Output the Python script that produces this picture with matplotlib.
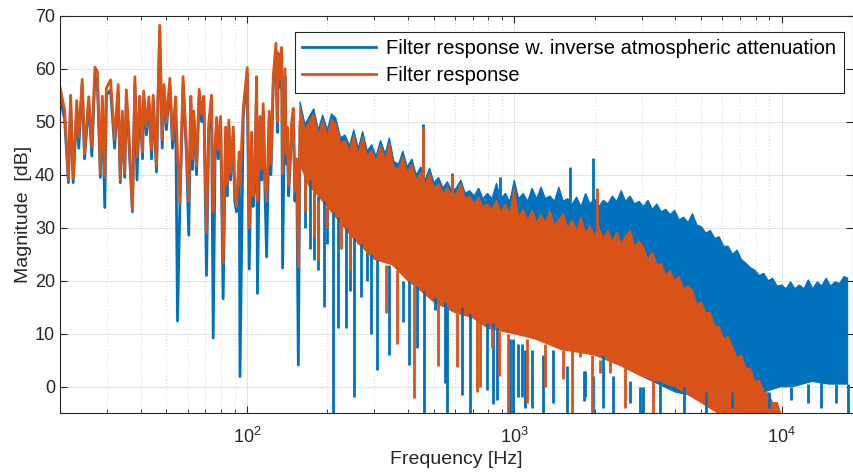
import numpy as np
import matplotlib.pyplot as plt
from matplotlib.ticker import LogLocator, NullFormatter

plt.rcParams['font.family'] = ['Liberation Sans', 'DejaVu Sans']

BLUE = '#0072BD'
ORANGE = '#D95319'

# low frequency part, single peaks readable (Hz, dB)
f_low = [20.0, 20.8, 21.5, 21.9, 22.4, 23.1, 23.5, 24.2, 24.7, 25.6, 26.3, 27.0, 27.6, 28.3,
         28.8, 29.4, 29.8, 30.9, 32.0, 33.0, 33.6, 34.2, 34.9, 35.4, 36.2, 37.3, 38.1, 38.8,
         39.7, 40.7, 41.1, 42.1, 43.0, 44.0, 44.6, 45.9, 46.5, 47.2, 48.2, 49.0, 50.0, 51.5,
         52.7, 54.1, 55.0, 56.1, 57.7, 59.5, 60.6, 61.7, 62.5, 63.3, 64.8, 66.3, 67.7, 69.0,
         70.6, 72.0, 73.7, 74.8, 76.0, 77.0, 78.1, 79.7, 81.5, 83.2, 84.5, 85.6, 86.9, 88.9,
         90.0, 91.5, 93.6, 94.2, 96.9, 100.3, 102.0, 104.1, 105.5, 107.1, 108.7, 109.5, 111.9,
         113.5, 115.1, 116.8, 118.5, 121.2, 123.0, 125.5, 128.4, 130.0, 131.0, 132.9, 134.9,
         136.0, 138.8, 140.2, 141.6, 143.2, 144.9, 147.0, 149.1, 151.2, 153.5, 155.7, 158.0]
m_low_or = [56.5, 52.2, 39.0, 55.0, 39.3, 54.0, 47.0, 58.0, 44.0, 54.7, 45.3, 60.3, 59.4, 40.3,
            54.8, 39.6, 56.3, 57.9, 46.6, 57.0, 39.0, 52.0, 40.3, 56.0, 47.8, 33.3, 58.5, 43.4,
            54.8, 44.3, 55.8, 49.0, 54.7, 44.7, 55.0, 41.6, 54.7, 68.2, 46.6, 57.0, 49.8, 58.2,
            46.6, 54.7, 44.0, 34.6, 58.5, 44.7, 35.0, 54.8, 43.0, 52.0, 41.6, 56.1, 51.5, 54.8,
            29.0, 49.8, 55.0, 33.0, 45.0, 50.8, 44.7, 51.0, 23.3, 49.0, 38.0, 50.3, 40.3, 49.0,
            37.0, 34.0, 44.3, 38.0, 52.5, 60.2, 30.0, 48.0, 36.0, 40.0, 58.5, 35.0, 51.0,
            41.0, 53.4, 39.0, 35.0, 52.0, 42.0, 58.5, 64.8, 50.0, 63.0, 58.0, 64.0,
            40.2, 60.0, 44.0, 49.0, 38.0, 42.6, 50.0, 52.5, 37.0, 43.0, 22.5, 50.0]
m_low_bl = [54.5, 50.5, 38.5, 53.5, 38.5, 52.5, 45.0, 57.0, 43.0, 53.5, 43.5, 58.5, 57.0, 39.5,
            53.5, 33.8, 55.0, 56.0, 45.0, 55.5, 38.5, 50.5, 39.5, 54.5, 46.0, 33.0, 57.0, 39.0,
            53.5, 43.0, 54.5, 47.5, 53.5, 43.0, 54.0, 40.5, 53.5, 67.0, 45.0, 55.5, 48.5, 57.0,
            45.0, 53.5, 12.4, 33.5, 57.0, 43.0, 28.6, 53.5, 41.0, 50.5, 40.0, 55.0, 50.0, 53.5,
            21.0, 48.5, 53.5, 9.2, 43.0, 49.5, 43.0, 50.0, 16.6, 47.5, 36.0, 49.0, 39.0, 47.5,
            35.0, 33.0, 43.0, 1.9, 51.0, 59.0, 22.2, 46.5, 34.0, 39.0, 57.0, 17.6, 49.5,
            39.0, 52.0, 37.0, 24.5, 50.5, 40.0, 57.0, 63.5, 48.0, 61.5, 56.5, 62.5,
            22.4, 58.5, 42.0, 47.5, 36.0, 41.5, 48.0, 51.0, 35.0, 42.0, 4.1, 49.0]

# dense part above ~160 Hz: frequencies where the top edge was read
f_hf = [158, 165, 171, 178, 185, 192, 200, 207, 215, 224, 233, 242, 251, 261, 271, 282, 293,
        304, 316, 329, 341, 355, 369, 383, 398, 414, 430, 447, 464, 482, 501, 521, 541, 562,
        584, 607, 631, 656, 681, 708, 736, 764, 794, 825, 858, 891, 926, 962, 1000, 1039,
        1080, 1122, 1166, 1212, 1259, 1308, 1359, 1413, 1468, 1525, 1585, 1647, 1711, 1778,
        1848, 1920, 1995, 2073, 2154, 2239, 2326, 2417, 2512, 2610, 2712, 2818, 2929, 3043,
        3162, 3286, 3415, 3548, 3687, 3831, 3981, 4137, 4299, 4467, 4642, 4823, 5012, 5208,
        5412, 5623, 5843, 6072, 6310, 6556, 6813, 7079, 7356, 7643, 7943, 8254, 8577, 8913,
        9261, 9624, 10000, 10391, 10798, 11220, 11659, 12115, 12589, 13082, 13594, 14125,
        14678, 15252, 15849, 16469, 17113, 17660]
top_or = [52.8, 48.5, 50.0, 51.5, 47.5, 50.3, 47.5, 50.5, 49.7, 46.0, 46.5, 44.5, 47.5, 44.0,
          47.2, 43.5, 44.7, 42.5, 45.5, 43.0, 46.0, 41.5, 41.0, 43.5, 40.5, 42.0, 39.0, 40.5,
          38.0, 40.3, 37.5, 38.4, 36.5, 37.7, 36.0, 36.5, 38.4, 35.5, 36.0, 34.5, 35.8, 34.0,
          34.5, 33.5, 35.2, 33.0, 34.5, 32.5, 37.5, 32.0, 33.5, 31.5, 33.3, 31.0, 32.5, 31.0,
          33.3, 30.5, 31.5, 32.7, 30.0, 31.5, 29.5, 32.0, 29.0, 30.5, 28.5, 30.2, 28.0, 29.5,
          27.5, 29.2, 27.0, 28.5, 29.6, 26.5, 27.5, 26.4, 24.0, 25.5, 23.0, 23.3, 21.0, 22.0,
          20.0, 20.8, 18.5, 19.0, 18.2, 15.5, 16.0, 14.0, 14.0, 11.5, 11.3, 9.0, 9.5, 7.5,
          5.5, 6.0, 3.5, 3.5, 1.0, 1.3, -1.0, -1.2, -3.0, -3.0, -5.5]
top_bl = [53.8, 49.5, 51.0, 52.5, 48.5, 51.3, 48.5, 51.5, 50.7, 47.0, 47.5, 45.5, 48.5, 45.0,
          48.2, 44.5, 45.7, 43.5, 46.5, 44.0, 47.0, 42.5, 42.0, 44.5, 41.5, 43.0, 40.0, 41.5,
          39.0, 41.3, 38.5, 39.5, 37.5, 38.7, 37.0, 37.5, 39.0, 36.5, 37.0, 36.0, 37.5, 35.5,
          36.5, 35.5, 38.4, 35.5, 36.5, 35.0, 39.0, 35.5, 36.5, 35.0, 37.5, 35.5, 37.7, 35.5,
          36.0, 35.0, 37.7, 35.0, 35.5, 34.5, 35.8, 34.0, 36.5, 34.5, 35.5, 34.0, 35.2, 34.5,
          36.0, 35.0, 37.0, 35.0, 36.0, 34.5, 35.0, 34.0, 35.2, 33.5, 34.5, 33.0, 33.5, 32.5,
          33.3, 31.5, 32.0, 31.0, 32.7, 30.5, 30.2, 29.0, 29.5, 28.0, 28.3, 26.5, 26.5, 25.0,
          25.8, 24.0, 23.3, 22.5, 22.0, 21.0, 21.4, 20.0, 20.5, 19.0, 19.2, 18.5, 19.8, 18.5,
          19.2, 18.5, 20.2, 18.5, 19.8, 19.0, 20.5, 19.0, 19.8, 19.5, 20.8, 20.5]

# bottom of the solid part of each band
f_lo_or = [158, 170, 185, 215, 250, 300, 350, 400, 450, 500, 600, 700, 800, 1000, 1200, 1500,
           2000, 2500, 3000, 4000, 5000, 6000, 10000]
m_lo_or = [42, 38, 36, 32, 28, 24, 23, 20, 18, 16, 14, 13, 11, 10, 9, 7, 6, 4, 2, 0, -3, -5.5,
           -5.5]
f_lo_bl = [158, 170, 185, 215, 250, 300, 350, 400, 450, 500, 600, 700, 800, 1000, 1500, 2000,
           2500, 3000, 4000, 5000, 6000, 8000, 9915, 11000, 13000, 15000, 17660]
m_lo_bl = [43, 39, 37, 33, 29, 25, 24, 21, 19, 17, 15, 14, 12, 10.5, 7.5, 6, 4, 2, -1, -2,
           -2.5, -1.5, 0, 0, 1, 0.5, 0.5]

# single spikes leaving the band: frequency, tip, where it joins the band
spk_f_bl = [165, 172, 178, 184.5, 195, 200, 210, 219, 235, 242, 251.6, 266.6, 282, 290,
            306.9, 340, 384, 404.5, 432, 460, 506, 551, 560, 637, 684, 790, 834, 861, 966,
            991, 1037, 1069, 1097, 1166, 1284, 1400, 1574, 1819, 1845, 1977, 2150, 2349,
            2720, 2965, 3042, 3500, 4300, 5200, 6500, 9000, 10810, 12510, 14000, 16000, 17660,
            456, 585, 886, 1621, 1977]
spk_tip_bl = [30, 26, 24, 22, 15, 27, -5, 11, 11, 18, -1.9, 17, 20, 10,
              3.2, 6, 12.3, 4.1, 7.3, -5, 14.5, 0.7, -5, -1.6, -5, -0.6, -3.3, -2.5, -5,
              -5, -2, -1.9, -4, -4, -5, -3, -5, -2.7, -1.9, -5, -4, -5,
              -3, -5, -5, -5, -5, -5, -4, -4, -2.5, -3, -4, -3, -5,
              49.5, 40.3, 39.5, 41.5, 43.1]
spk_base_bl = [40, 39, 38, 36, 35, 34, 33, 32, 30, 29, 28, 27, 26, 25,
               24, 23, 20, 20, 19, 18, 17, 16, 15, 15, 14, 12, 12, 11, 9,
               9, 8, 8, 7, 7, 6, 7, 4, 3, 3, 2, 6, 2,
               1, 0, 0, 1, 0, -1, -1, -1, 0, 0.5, 1, 0.5, 0.5,
               38, 37, 35, 35, 35]
spk_f_or = [165, 178, 184.5, 200, 224, 242, 261, 282, 330, 365, 422, 520, 610, 725, 746, 825,
            880, 949, 1120, 1300, 1525, 1649, 1767, 1950, 2099, 2289, 2600, 3300,
            456, 585, 2046]
spk_tip_or = [33, 28, 24, 30, 26, 22, 27, 25, 14, 8, -2.1, 4, 3.8, -1, 0, 7.3,
              2, -5, -3, 0, 1.5, -5, 5.7, -5, 2.6, 2.6, -4, -5,
              49, 40, 37.5]
spk_base_or = [40, 38, 35, 34, 31, 29, 28, 26, 23, 22, 19, 16, 14, 13, 13, 11,
               10.5, 10, 9, 8, 7, 7, 6.5, 6, 5, 5, 4, 2,
               38, 36, 30]

fig = plt.figure(figsize=(8.54, 4.75), dpi=100)
ax = fig.add_axes([0.0703, 0.130, 0.9286, 0.837])

lw = 2.0
# blue below, orange on top
n_bl = min(len(f_hf), len(top_bl))
ax.fill(list(f_hf[:n_bl]) + f_lo_bl[::-1], list(top_bl[:n_bl]) + m_lo_bl[::-1],
        color=BLUE, lw=0.8, edgecolor=BLUE)
ax.vlines(spk_f_bl, spk_tip_bl, spk_base_bl, color=BLUE, lw=lw)
ax.plot(f_low, m_low_bl, color=BLUE, lw=lw,
        label='Filter response w. inverse atmospheric attenuation')

n_or = min(len(f_hf), len(top_or))
ax.fill(list(f_hf[:n_or]) + f_lo_or[::-1], list(top_or[:n_or]) + m_lo_or[::-1],
        color=ORANGE, lw=0.8, edgecolor=ORANGE)
ax.vlines(spk_f_or, spk_tip_or, spk_base_or, color=ORANGE, lw=lw)
ax.plot(f_low, m_low_or, color=ORANGE, lw=lw, label='Filter response')

ax.set_xscale('log')
ax.set_xlim(20, 18500)
ax.set_ylim(-5, 70)
ax.set_yticks(range(0, 71, 10))
ax.xaxis.set_minor_locator(LogLocator(base=10, subs=np.arange(2, 10)))
ax.xaxis.set_minor_formatter(NullFormatter())

txt = '#262626'
ax.grid(True, which='major', color='#dedede', lw=0.6)
ax.grid(True, which='minor', axis='x', color='#c4c4c4', lw=0.6, ls=(0, (1, 3)))
ax.set_axisbelow(True)
ax.tick_params(which='both', direction='in', top=True, right=True, colors=txt,
               labelsize=13)
ax.tick_params(axis='x', which='major', pad=10)
ax.tick_params(which='major', length=5)
ax.tick_params(which='minor', length=3)
for s in ax.spines.values():
    s.set_color(txt)
    s.set_linewidth(0.8)

ax.set_xlabel('Frequency [Hz]', fontsize=14, color=txt, labelpad=3)
ax.set_ylabel('Magnitude  [dB]', fontsize=14, color=txt, labelpad=2)

leg = ax.legend(loc='upper right', bbox_to_anchor=(0.988, 0.958), fontsize=14.5,
                handlelength=3.7, fancybox=False, framealpha=1, borderpad=0.35,
                labelspacing=0.4, handletextpad=0.5, borderaxespad=0)
leg.get_frame().set_edgecolor(txt)
leg.get_frame().set_linewidth(0.8)

fig.savefig('out.png', dpi=100)
